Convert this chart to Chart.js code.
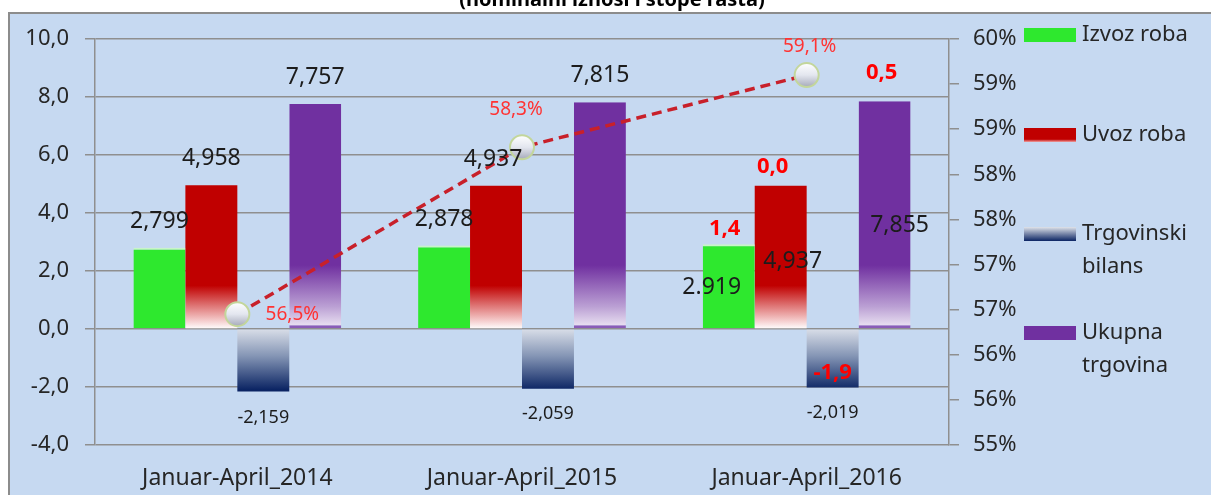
<!DOCTYPE html>
<html>
<head>
<meta charset="utf-8">
<script src="https://cdn.jsdelivr.net/npm/chart.js@4.4.0/dist/chart.umd.min.js"></script>
<style>
  html, body { margin: 0; padding: 0; background: #fff; }
  #wrap { width: 1211px; height: 495px; }
</style>
</head>
<body>
<div id="wrap"><canvas id="tradeChart" width="1211" height="495"></canvas></div>
<script>
const categories = ['Januar-April_2014', 'Januar-April_2015', 'Januar-April_2016'];

// nominalni iznosi
const izvoz = [2.799, 2.878, 2.919];
const uvoz = [4.958, 4.937, 4.937];
const bilans = [-2.159, -2.059, -2.019];
const ukupno = [7.757, 7.815, 7.855];

// tekst oznaka kao na originalu
const izvozText = ['2,799', '2,878', '2.919'];
const uvozText = ['4,958', '4,937', '4,937'];
const bilansText = ['-2,159', '-2,059', '-2,019'];
const ukupnoText = ['7,757', '7,815', '7,855'];

// stope rasta (samo za 2016)
const izvozRast = [null, null, 1.4];
const uvozRast = [null, null, 0.0];
const bilansRast = [null, null, -1.9];
const ukupnoRast = [null, null, 0.5];

// pokrivenost uvoza izvozom
const pokrivenost = [56.45, 58.3, 59.1];
const pokrivenostText = ['56,5%', '58,3%', '59,1%'];

const legendLines = [['Izvoz roba'], ['Uvoz roba'], ['Trgovinski', 'bilans'], ['Ukupna', 'trgovina']];

const FONT = '"Noto Sans", "Open Sans", sans-serif';
const GRID = '#8f8f8f';

function gradFill(c, v0, v1, stops, fallback) {
  const chart = c.chart;
  if (!chart.chartArea) return fallback;
  const y = chart.scales.y;
  const g = chart.ctx.createLinearGradient(0, y.getPixelForValue(v0), 0, y.getPixelForValue(v1));
  stops.forEach(s => g.addColorStop(s[0], s[1]));
  return g;
}

const redFill = c => gradFill(c, 0, 1.5, [[0, '#ffffff'], [0.3, '#eeb0b0'], [1, '#c00000']], '#c00000');
const purpleFill = c => gradFill(c, 0, 2.2, [[0, '#f0eaf6'], [0.35, '#bba0d4'], [1, '#7030a0']], '#7030a0');
const blueFill = c => gradFill(c, 0, -2.1, [[0, '#d9dee8'], [0.45, '#8394b4'], [1, '#0b2463']], '#0b2463');

function pointFill(c) {
  const chart = c.chart;
  if (!chart.chartArea || c.raw == null) return '#e2e5ee';
  const py = chart.scales.y2.getPixelForValue(c.raw);
  const g = chart.ctx.createLinearGradient(0, py - 12, 0, py + 12);
  g.addColorStop(0, '#ffffff');
  g.addColorStop(0.5, '#e3e6ef');
  g.addColorStop(1, '#a6aaba');
  return g;
}

const backgroundPlugin = {
  id: 'background',
  beforeDraw(chart) {
    const { ctx, width, height } = chart;
    ctx.save();
    ctx.fillStyle = '#ffffff';
    ctx.fillRect(0, 0, width, height);
    ctx.fillStyle = '#c6d9f1';
    ctx.fillRect(9, 13, width - 9, height - 13);
    ctx.strokeStyle = '#8c8c8c';
    ctx.lineWidth = 2;
    ctx.beginPath();
    ctx.moveTo(9, height);
    ctx.lineTo(9, 13);
    ctx.lineTo(width, 13);
    ctx.stroke();
    ctx.fillStyle = '#000';
    ctx.font = 'bold 20px ' + FONT;
    ctx.textAlign = 'center';
    ctx.textBaseline = 'alphabetic';
    ctx.fillText('(nominalni iznosi i stope rasta)', 612, 6);
    ctx.restore();
  }
};

// pomaci oznaka od kraja stupca [dx, dy]
const valueOffsets = [
  [[0, -26], [0, -26], [-17, 43]],
  [[0, -27], [-3, -26], [12, 76]],
  [[0, 26], [0, 25], [0, 25]],
  [[0, -27], [0, -27], [15, 124]]
];
const rastOffsets = [[-4, -16], [-8, -19], [0, -15], [-3, -28]];
const lineOffsets = [[55, 0], [-6, -38], [3, -28]];

const labelPlugin = {
  id: 'labels',
  afterDatasetsDraw(chart) {
    const { ctx } = chart;
    const texts = [izvozText, uvozText, bilansText, ukupnoText];
    const rates = [izvozRast, uvozRast, bilansRast, ukupnoRast];
    ctx.save();
    ctx.textAlign = 'center';
    ctx.textBaseline = 'middle';
    texts.forEach((t, di) => {
      const meta = chart.getDatasetMeta(di);
      meta.data.forEach((bar, i) => {
        const off = valueOffsets[di][i];
        ctx.font = (di === 2 ? '18px ' : '23px ') + FONT;
        ctx.fillStyle = '#1c1c1c';
        ctx.fillText(t[i], bar.x + off[0], bar.y + off[1]);
        const r = rates[di][i];
        if (r != null) {
          ctx.font = 'bold 22px ' + FONT;
          ctx.fillStyle = '#ff0000';
          ctx.fillText(r.toFixed(1).replace('.', ','), bar.x + rastOffsets[di][0], bar.y + rastOffsets[di][1]);
        }
      });
    });
    const lineMeta = chart.getDatasetMeta(4);
    ctx.font = '19px ' + FONT;
    ctx.fillStyle = '#ff3333';
    lineMeta.data.forEach((pt, i) => {
      ctx.fillText(pokrivenostText[i], pt.x + lineOffsets[i][0], pt.y + lineOffsets[i][1]);
    });
    ctx.restore();
  }
};

const legendPlugin = {
  id: 'sideLegend',
  afterDraw(chart) {
    const { ctx, chartArea } = chart;
    const top = chartArea.top;
    const sx = chartArea.right + 75;
    const tx = sx + 58;
    const rows = [-4, 96, 195, 294];
    const fills = [
      '#2ee82e',
      (y) => { const g = ctx.createLinearGradient(0, y, 0, y + 14); g.addColorStop(0, '#c00000'); g.addColorStop(0.8, '#c00000'); g.addColorStop(1, '#f0a0a0'); return g; },
      (y) => { const g = ctx.createLinearGradient(0, y, 0, y + 14); g.addColorStop(0, '#dfe3ea'); g.addColorStop(1, '#0b2463'); return g; },
      '#7030a0'
    ];
    ctx.save();
    ctx.textBaseline = 'middle';
    ctx.textAlign = 'left';
    ctx.font = '22px ' + FONT;
    legendLines.forEach((lines, i) => {
      const y = top + rows[i];
      const f = fills[i];
      ctx.fillStyle = typeof f === 'function' ? f(y - 7) : f;
      ctx.fillRect(sx, y - 7, 52, 14);
      ctx.fillStyle = '#262626';
      lines.forEach((ln, k) => ctx.fillText(ln, tx, y + k * 33));
    });
    ctx.restore();
  }
};

const ctx = document.getElementById('tradeChart').getContext('2d');
new Chart(ctx, {
  type: 'bar',
  data: {
    labels: categories,
    datasets: [
      { label: 'Izvoz roba', data: izvoz, backgroundColor: '#2ee82e', borderColor: '#c8f5c8', borderWidth: { top: 2 }, borderSkipped: 'start', yAxisID: 'y', order: 2 },
      { label: 'Uvoz roba', data: uvoz, backgroundColor: redFill, yAxisID: 'y', order: 2 },
      { label: 'Trgovinski bilans', data: bilans, backgroundColor: blueFill, yAxisID: 'y', order: 2 },
      { label: 'Ukupna trgovina', data: ukupno, backgroundColor: purpleFill, borderColor: '#8a5cb8', borderWidth: { bottom: 3 }, borderSkipped: false, yAxisID: 'y', order: 2 },
      {
        type: 'line',
        label: 'Pokrivenost',
        data: pokrivenost,
        yAxisID: 'y2',
        order: 0,
        borderColor: '#c8202a',
        borderWidth: 3.5,
        borderDash: [10, 6],
        pointRadius: 12,
        pointBackgroundColor: pointFill,
        pointBorderColor: '#c3d69b',
        pointBorderWidth: 2,
        fill: false
      }
    ]
  },
  options: {
    responsive: false,
    animation: false,
    layout: { padding: { top: 39, left: 0, right: 0, bottom: 0 } },
    datasets: { bar: { categoryPercentage: 0.73, barPercentage: 1 } },
    plugins: {
      legend: { display: false },
      tooltip: { enabled: false }
    },
    scales: {
      x: {
        grid: { display: false, drawTicks: false },
        border: { display: false },
        ticks: { font: { family: FONT, size: 23 }, color: '#262626', padding: 20 },
        afterFit: s => { s.height = 50; }
      },
      y: {
        min: -4,
        max: 10,
        ticks: {
          stepSize: 2,
          callback: v => v.toFixed(1).replace('.', ','),
          font: { family: FONT, size: 22 },
          color: '#262626',
          padding: 16
        },
        grid: { color: GRID, lineWidth: 1.5, tickLength: 10 },
        border: { color: GRID, width: 1.5 },
        afterFit: s => { s.width = 95; }
      },
      y2: {
        position: 'right',
        min: 55,
        max: 59.5,
        ticks: {
          stepSize: 0.5,
          callback: v => Math.round(v) + '%',
          font: { family: FONT, size: 22 },
          color: '#262626',
          padding: 14
        },
        grid: { drawOnChartArea: false, color: GRID, lineWidth: 1.5, tickLength: 10 },
        border: { color: GRID, width: 1.5 },
        afterFit: s => { s.width = 262; }
      }
    }
  },
  plugins: [backgroundPlugin, labelPlugin, legendPlugin]
});
</script>
</body>
</html>
